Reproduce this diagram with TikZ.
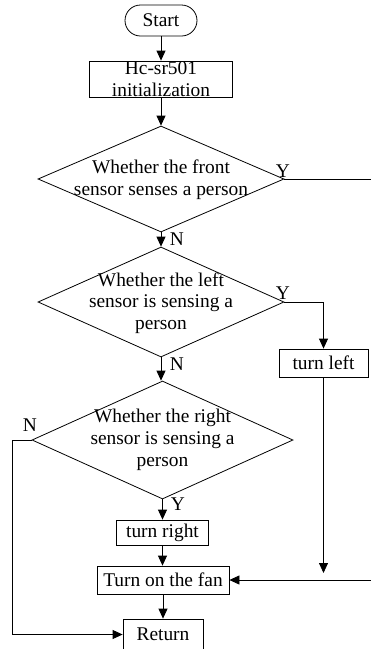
\documentclass[tikz,border=0pt]{standalone}
\usepackage{fontspec}
\setmainfont{Liberation Serif}
\usetikzlibrary{shapes.geometric,arrows.meta}
\begin{document}
\begin{tikzpicture}[x=1pt,y=-1pt,
  every node/.style={font=\fontsize{19.4}{21.7}\selectfont},
  box/.style={draw, line width=0.8pt, inner sep=0pt, align=center},
  dia/.style={draw, diamond, line width=0.8pt, inner sep=0pt},
  txt/.style={align=center, inner sep=0pt},
  lbl/.style={inner sep=0pt},
  flow/.style={draw, line width=0.8pt, -{Triangle[length=10pt,width=9pt]}},
  plain/.style={draw, line width=0.8pt}]
\useasboundingbox (0,0) rectangle (371,649);

\node[box, rounded corners=15.5pt, minimum width=72pt, minimum height=31pt] (start) at (161,20.5) {Start};
\node[box, minimum width=143pt, minimum height=36pt] (init) at (161,79) {Hc-sr501\\initialization};

\node[dia, minimum width=246pt, minimum height=106pt] (d1) at (161,179) {};
\node[txt] (t1) at (161,179.5) {Whether the front\\sensor senses a person};
\node[dia, minimum width=246pt, minimum height=110pt] (d2) at (161,302) {};
\node[txt] (t2) at (161,303) {Whether the left\\sensor is sensing a\\person};
\node[dia, minimum width=261pt, minimum height=118pt] (d3) at (162.5,440) {};
\node[txt] (t3) at (162.5,440) {Whether the right\\sensor is sensing a\\person};

\node[box, minimum width=89pt, minimum height=28pt] (tl) at (323.5,363) {turn left};
\node[box, minimum width=92pt, minimum height=25pt] (tr) at (162.5,532.5) {turn right};
\node[box, minimum width=132pt, minimum height=28pt] (fan) at (163,580) {Turn on the fan};
\node[box, minimum width=80pt, minimum height=31pt] (ret) at (163,634.5) {Return};

\node[lbl] (y1) at (283,171) {Y};
\node[lbl] (n1) at (177,239) {N};
\node[lbl] (y2) at (283,293) {Y};
\node[lbl] (n2) at (177,364) {N};
\node[lbl] (n3) at (30,425) {N};
\node[lbl] (y3) at (178,504) {Y};

\coordinate (rc1) at (376,179);
\coordinate (tlend) at (323.5,573);
\coordinate (lc) at (12,440);

\draw[flow] (start.south) -- (start.south |- init.north);
\draw[flow] (init.south) -- (init.south |- d1.north);
\draw[flow] (d1.south) -- (d1.south |- d2.north);
\draw[flow] (d2.south) -- (d2.south |- d3.north);
\draw[flow] (d3.south) -- (d3.south |- tr.north);
\draw[flow] (tr.south) -- (tr.south |- fan.north);
\draw[flow] (fan.south) -- (fan.south |- ret.north);

\draw[flow] (d1.east) -- (rc1) |- (fan.east);
\draw[flow] (d2.east) -| (tl.north);
\draw[flow] (tl.south) -- (tlend);
\draw[flow] (d3.west) -- (lc) |- (ret.west);
\end{tikzpicture}
\end{document}
